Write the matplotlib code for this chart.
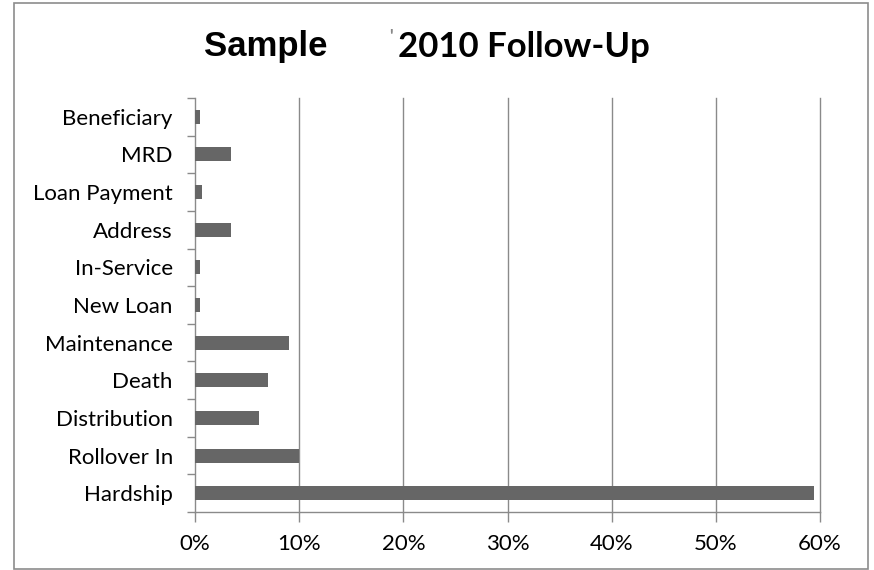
import numpy as np
import matplotlib.pyplot as plt
from matplotlib.patches import Rectangle
from matplotlib.ticker import FixedLocator, FuncFormatter

# categories listed bottom to top, as drawn
categories = ['Hardship', 'Rollover In', 'Distribution', 'Death', 'Maintenance',
              'New Loan', 'In-Service', 'Address', 'Loan Payment', 'MRD', 'Beneficiary']
shares = [59.4, 10.0, 6.1, 7.0, 9.0, 0.5, 0.5, 3.5, 0.7, 3.5, 0.5]
x_ticks = [0, 10, 20, 30, 40, 50, 60]

W, H = 874, 570
fig = plt.figure(figsize=(W / 100, H / 100), dpi=100, facecolor='white')

# outer chart border
fig.patches.append(Rectangle((14 / W, 1 - 569 / H), (868 - 14) / W, (569 - 3) / H,
                             transform=fig.transFigure, fill=False,
                             edgecolor='#8c8c8c', linewidth=1.2))

ax = fig.add_axes([195 / W, 1 - 512 / H, (820 - 195) / W, (512 - 98) / H])

y = np.arange(len(categories))
ax.barh(y, shares, height=0.37, color='#666666', zorder=3)

ax.set_xlim(0, 60)
ax.set_ylim(-0.5, len(categories) - 0.5)

grid_c = '#8a8a8a'
for v in x_ticks[1:]:
    ax.axvline(v, color=grid_c, linewidth=1.0, zorder=1, clip_on=False)

for s in ['top', 'right']:
    ax.spines[s].set_visible(False)
for s in ['left', 'bottom']:
    ax.spines[s].set_color(grid_c)
    ax.spines[s].set_linewidth(1.0)

# x axis
ax.set_xticks(x_ticks)
ax.xaxis.set_major_formatter(FuncFormatter(lambda v, p: f'{v:.0f}%'))
ax.tick_params(axis='x', direction='out', length=7, color=grid_c, width=1.0,
               pad=9, labelsize=16)

# y axis: ticks on boundaries, labels centred on bars
ax.yaxis.set_major_locator(FixedLocator(np.arange(-0.5, len(categories), 1.0)))
ax.yaxis.set_major_formatter(FuncFormatter(lambda v, p: ''))
ax.yaxis.set_minor_locator(FixedLocator(y))
ax.set_yticklabels(categories, minor=True)
ax.tick_params(axis='y', which='major', direction='out', length=6, color=grid_c, width=1.0)
ax.tick_params(axis='y', which='minor', length=0, pad=16, labelsize=16)

for lab in ax.get_xticklabels() + ax.get_yticklabels(minor=True):
    lab.set_family('Lato')
    lab.set_color('#000000')

# title: two parts, with a gap between them
fig.text(204 / W, 1 - 56 / H, 'Sample', family='Liberation Sans', weight='bold',
         fontsize=25, ha='left', va='baseline')
fig.text(389 / W, 1 - 43 / H, "'", family='Lato', weight='bold', color='#888888',
         fontsize=13, ha='left', va='baseline')
fig.text(398 / W, 1 - 57 / H, '2010 Follow-Up', family='Lato', weight='bold',
         fontsize=25, ha='left', va='baseline')

fig.savefig('out.png', dpi=100, facecolor='white')
